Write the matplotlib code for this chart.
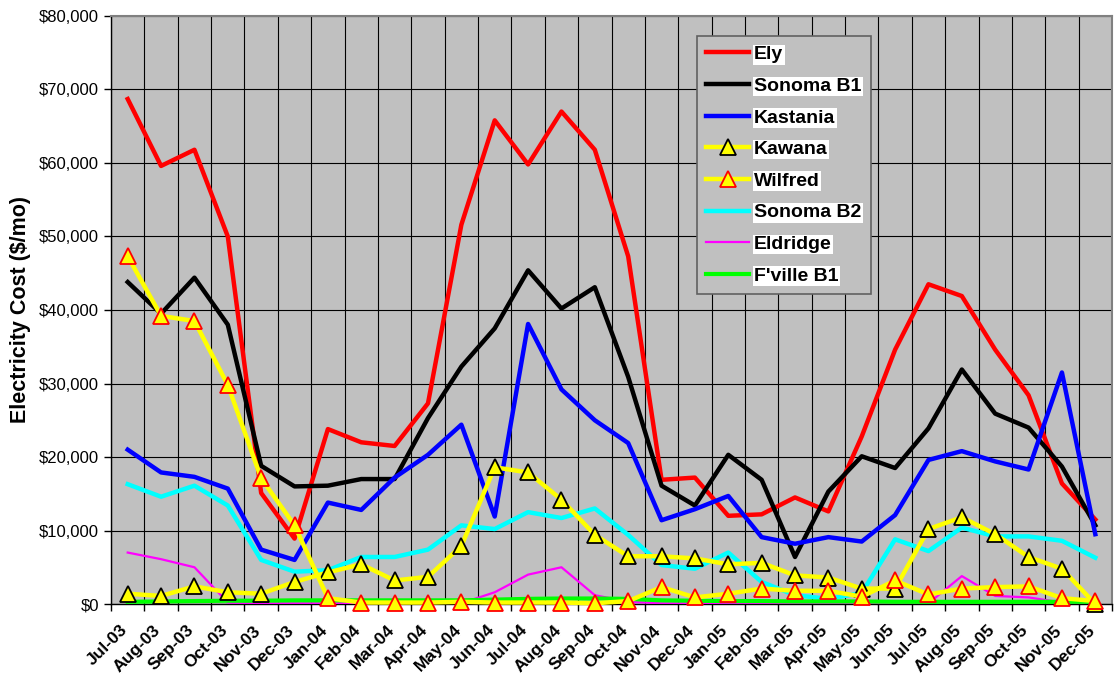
import matplotlib
matplotlib.use('Agg')
import matplotlib.pyplot as plt
from matplotlib.ticker import FuncFormatter, FixedLocator
from matplotlib.transforms import ScaledTranslation
import numpy as np

plt.rcParams['font.family'] = ['Liberation Sans', 'DejaVu Sans']

months = ['Jul-03', 'Aug-03', 'Sep-03', 'Oct-03', 'Nov-03', 'Dec-03',
          'Jan-04', 'Feb-04', 'Mar-04', 'Apr-04', 'May-04', 'Jun-04',
          'Jul-04', 'Aug-04', 'Sep-04', 'Oct-04', 'Nov-04', 'Dec-04',
          'Jan-05', 'Feb-05', 'Mar-05', 'Apr-05', 'May-05', 'Jun-05',
          'Jul-05', 'Aug-05', 'Sep-05', 'Oct-05', 'Nov-05', 'Dec-05']

# monthly cost in $/mo
ely = [68700, 59600, 61800, 50000, 15100, 8900, 23800, 22000, 21500, 27300,
       51600, 65800, 59800, 67000, 61800, 47300, 16900, 17200, 12000, 12200,
       14500, 12600, 22800, 34600, 43500, 41900, 34600, 28400, 16400, 11500]
sonoma_b1 = [43800, 39500, 44400, 38000, 18800, 16000, 16100, 17000, 17000, 25300,
             32300, 37500, 45400, 40200, 43100, 30900, 16100, 13400, 20300, 16900,
             6400, 15300, 20100, 18500, 23900, 31900, 25900, 24000, 18700, 10700]
kastania = [21000, 17900, 17300, 15700, 7400, 6000, 13800, 12800, 17200, 20300,
            24400, 11900, 38100, 29200, 25000, 21900, 11400, 12900, 14700, 9100,
            8200, 9100, 8500, 12100, 19600, 20800, 19400, 18300, 31500, 9500]
kawana = [1400, 1100, 2400, 1600, 1400, 3000, 4300, 5400, 3200, 3700,
          7900, 18600, 17900, 14200, 9400, 6500, 6500, 6200, 5400, 5600,
          3900, 3600, 2100, 2100, 10200, 11800, 9500, 6400, 4800, 0]
wilfred = [47300, 39200, 38500, 29800, 17100, 10700, 800, 200, 200, 200,
           300, 200, 200, 200, 100, 400, 2300, 900, 1400, 2100,
           1800, 1800, 1000, 3200, 1300, 2100, 2300, 2400, 800, 400]
sonoma_b2 = [16300, 14600, 16100, 13400, 6000, 4400, 4600, 6400, 6400, 7400,
             10700, 10200, 12500, 11700, 13000, 9400, 5300, 4800, 7000, 3000,
             1200, 700, 1500, 8800, 7200, 10400, 9200, 9200, 8600, 6300]
eldridge = [7000, 6100, 5000, 200, 100, 100, 100, 100, 100, 100,
            100, 1600, 4000, 5000, 1200, 300, 100, 100, 100, 100,
            100, 100, 100, 100, 100, 3800, 1100, 900, 200, 100]
fville_b1 = [300, 350, 400, 450, 450, 500, 500, 500, 500, 500,
             500, 600, 700, 750, 750, 700, 500, 450, 400, 400,
             350, 350, 350, 300, 300, 300, 300, 300, 300, 300]

x = np.arange(len(months))

fig = plt.figure(figsize=(11.17, 6.77), dpi=100)
ax = fig.add_axes([0.0994, 0.1078, 0.8961, 0.8686])
ax.set_facecolor('#C0C0C0')

ax.plot(x, ely, color='#FF0000', lw=3.2, label='Ely', zorder=3)
ax.plot(x, sonoma_b1, color='black', lw=3.2, label='Sonoma B1', zorder=3)
ax.plot(x, kastania, color='#0000FF', lw=3.2, label='Kastania', zorder=3)
ax.plot(x, kawana, color='#FFFF00', lw=3.2, marker='^', ms=11,
        mfc='#FFFF00', mec='black', mew=1.3, label='Kawana', zorder=5, clip_on=False)
ax.plot(x, wilfred, color='#FFFF00', lw=3.2, marker='^', ms=11,
        mfc='#FFFF00', mec='#FF0000', mew=1.3, label='Wilfred', zorder=6, clip_on=False)
ax.plot(x, sonoma_b2, color='#00FFFF', lw=3.2, label='Sonoma B2', zorder=3)
ax.plot(x, eldridge, color='#FF00FF', lw=1.6, label='Eldridge', zorder=3)
ax.plot(x, fville_b1, color='#00FF00', lw=3.0, label="F'ville B1", zorder=4)

ax.set_xlim(-0.5, len(months) - 0.5)
ax.set_ylim(0, 80000)

# gridlines sit on the category boundaries, labels in the middle
ax.xaxis.set_major_locator(FixedLocator(np.arange(-0.5, len(months), 1.0)))
ax.xaxis.set_minor_locator(FixedLocator(x))
ax.set_xticklabels([], minor=False)
ax.set_xticklabels(months, minor=True, rotation=45, ha='right', va='center',
                   rotation_mode='anchor', fontsize=12.5, fontweight='bold')
ax.tick_params(axis='x', which='major', direction='out', length=5, width=1)
ax.tick_params(axis='x', which='minor', length=0, pad=17)
shift = ScaledTranslation(-2 / 72, 0, fig.dpi_scale_trans)
for lab in ax.get_xticklabels(minor=True):
    lab.set_transform(lab.get_transform() + shift)

ax.set_yticks(np.arange(0, 80001, 10000))
ax.yaxis.set_major_formatter(FuncFormatter(lambda v, p: '${:,.0f}'.format(v)))
ax.tick_params(axis='y', direction='out', length=5, width=1, labelsize=12)

ax.grid(True, which='major', color='black', lw=0.8)
ax.set_axisbelow(True)

for side in ['top', 'right']:
    ax.spines[side].set_color('#808080')
    ax.spines[side].set_linewidth(1.5)
for side in ['left', 'bottom']:
    ax.spines[side].set_color('black')
    ax.spines[side].set_linewidth(1)

ax.set_ylabel('Electricity Cost ($/mo)', fontsize=15.5, fontweight='bold', labelpad=6)

leg = ax.legend(loc='upper left', bbox_to_anchor=(0.585, 0.966), fancybox=False,
                facecolor='#C0C0C0', edgecolor='#606060', framealpha=1,
                prop={'size': 14, 'weight': 'bold'}, handlelength=2.2,
                labelspacing=0.72, borderpad=0.5, borderaxespad=0,
                handletextpad=0.25)
leg.get_frame().set_linewidth(1.2)
for t in leg.get_texts():
    t.set_bbox(dict(facecolor='white', edgecolor='none', pad=1))

fig.savefig('out.png', dpi=100)
